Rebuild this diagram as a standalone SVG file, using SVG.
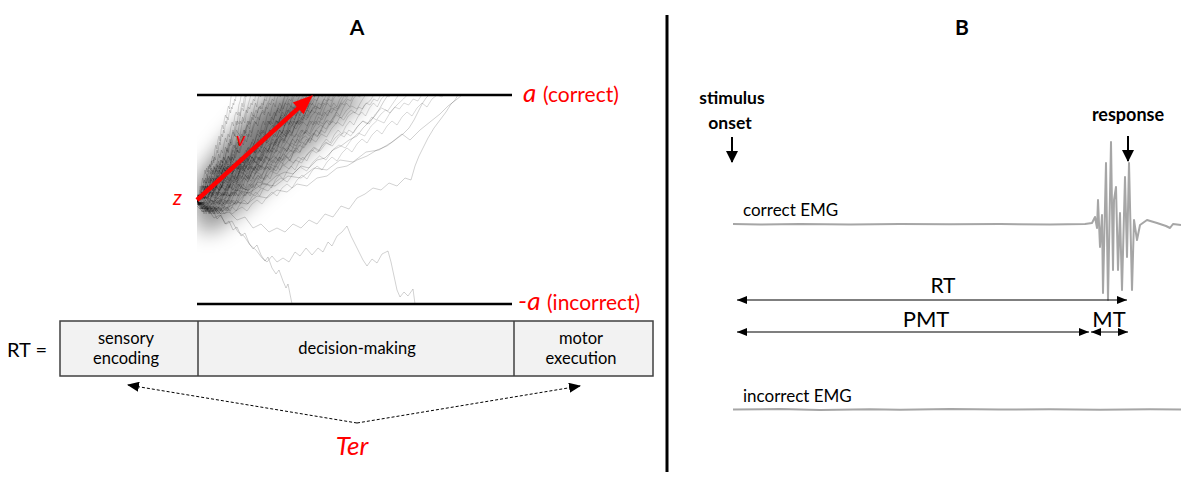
<svg xmlns="http://www.w3.org/2000/svg" width="1181" height="477" viewBox="0 0 1181 477">
<style>
.t{font-family:Lato,"Liberation Sans",sans-serif;fill:#000}
.b{font-weight:bold}
.red{fill:#ff0000;font-family:Lato,"Liberation Sans",sans-serif}
.walk{fill:none;stroke:#000;stroke-opacity:0.15;stroke-width:1;vector-effect:non-scaling-stroke}
.slow{fill:none;stroke:#000;stroke-opacity:0.18;stroke-width:1}
.emg{fill:none;stroke:#a6a6a6;stroke-width:2;stroke-linejoin:round}
.dim{stroke:#000;stroke-width:1.2;fill:none}
.box{fill:#f2f2f2;stroke:#404040;stroke-width:1.5}
.bt{font-family:Lato,"Liberation Sans",sans-serif;fill:#000;font-size:16.5px;text-anchor:middle}
</style>
<defs>
<marker id="ah" markerWidth="12" markerHeight="10" refX="11" refY="5" orient="auto-start-reverse" markerUnits="userSpaceOnUse"><path d="M0,0 L12,5 L0,10 Z" fill="#000"/></marker>
<marker id="ad" markerWidth="10" markerHeight="8" refX="10" refY="4" orient="auto-start-reverse" markerUnits="userSpaceOnUse"><path d="M0,0 L10,4 L0,8 Z" fill="#000"/></marker>
<marker id="dn" markerWidth="12" markerHeight="12" refX="6" refY="11" orient="0" markerUnits="userSpaceOnUse"><path d="M0,0 L12,0 L6,12 Z" fill="#000"/></marker>
<clipPath id="band"><rect x="197" y="95" width="316" height="209"/></clipPath>
<filter id="blur" x="-30%" y="-30%" width="160%" height="160%"><feGaussianBlur stdDeviation="10"/></filter>
<path id="w1" class="walk" d="M0,0 L3,-6 L6,-2 L9,-10 L12,-7 L15,-15 L18,-12 L21,-20 L24,-17 L27,-26 L30,-22 L33,-31 L36,-35 L39,-30 L42,-40 L45,-44 L48,-39 L51,-50 L54,-55 L57,-51 L60,-60 L63,-64 L66,-59 L69,-70 L72,-75 L75,-71 L78,-80 L81,-85 L84,-82 L87,-90 L90,-94 L93,-91 L96,-100 L100,-110"/>
<path id="w2" class="walk" d="M0,0 L3,4 L6,-3 L9,2 L12,-8 L15,-5 L18,-14 L21,-9 L24,-18 L27,-24 L30,-19 L33,-28 L36,-25 L39,-33 L42,-29 L45,-38 L48,-46 L51,-42 L54,-50 L57,-47 L60,-56 L63,-62 L66,-58 L69,-66 L72,-63 L75,-72 L78,-78 L81,-74 L84,-84 L87,-88 L90,-85 L93,-95 L96,-99 L100,-110"/>
<path id="w3" class="walk" d="M0,0 L3,-5 L6,-1 L9,-8 L12,-4 L15,-11 L18,-18 L21,-14 L24,-10 L27,-19 L30,-24 L33,-20 L36,-29 L39,-26 L42,-35 L45,-31 L48,-40 L51,-37 L54,-46 L57,-53 L60,-49 L63,-57 L66,-54 L69,-63 L72,-68 L75,-64 L78,-73 L81,-79 L84,-76 L87,-86 L90,-92 L93,-89 L96,-98 L100,-110"/>
<path id="w4" class="walk" d="M0,0 L3,6 L6,2 L9,9 L12,4 L15,0 L18,5 L21,-3 L24,-8 L27,-4 L30,-12 L33,-9 L36,-17 L39,-22 L42,-18 L45,-27 L48,-33 L51,-29 L54,-38 L57,-44 L60,-40 L63,-50 L66,-55 L69,-52 L72,-61 L75,-67 L78,-64 L81,-74 L84,-80 L87,-77 L90,-88 L93,-95 L96,-101 L100,-110"/>
<path id="w5" class="walk" d="M0,0 L2,-5 L4,-2 L6,-9 L8,-14 L10,-10 L12,-18 L14,-22 L16,-17 L18,-25 L20,-30 L22,-26 L24,-32 L26,-28 L28,-34 L30,-31 L32,-36 L34,-33 L36,-39 L38,-35 L40,-40 L42,-37 L44,-43 L46,-40 L48,-46 L50,-50 L52,-47 L54,-53 L56,-58 L58,-55 L60,-62 L62,-66 L64,-63 L66,-70 L68,-67 L70,-74 L72,-79 L74,-76 L76,-83 L78,-80 L80,-86 L82,-90 L84,-87 L86,-93 L88,-91 L90,-97 L92,-95 L94,-101 L96,-99 L98,-106 L100,-110"/>
<path id="w6" class="walk" d="M0,0 L2,5 L4,2 L6,9 L8,6 L10,12 L12,8 L14,14 L16,10 L18,7 L20,11 L22,4 L24,0 L26,4 L28,-3 L30,-8 L32,-4 L34,-12 L36,-16 L38,-12 L40,-20 L42,-25 L44,-21 L46,-29 L48,-34 L50,-30 L52,-38 L54,-43 L56,-39 L58,-47 L60,-52 L62,-48 L64,-56 L66,-61 L68,-57 L70,-65 L72,-70 L74,-66 L76,-74 L78,-79 L80,-75 L82,-83 L84,-88 L86,-84 L88,-92 L90,-97 L92,-93 L94,-101 L96,-105 L98,-103 L100,-110"/>
</defs>

<g id="panel-a-title"><text class="t b" x="357" y="35" font-size="21" text-anchor="middle">A</text></g>

<g id="walks" clip-path="url(#band)">
<polygon points="197,180 206,164 224,140 246,116 262,99 272,92 372,92 360,104 340,122 315,145 290,168 262,192 238,214 214,232 197,230" fill="#000" fill-opacity="0.38" filter="url(#blur)"/>
<polygon points="197,190 215,168 240,140 265,115 285,98 320,98 295,125 265,155 235,185 210,210 197,212" fill="#000" fill-opacity="0.25" filter="url(#blur)"/>
<use href="#w1" transform="translate(197,200) scale(0.35,1)"/>
<use href="#w2" transform="translate(197,200) scale(0.45,1)"/>
<use href="#w3" transform="translate(197,200) scale(0.5,1)"/>
<use href="#w4" transform="translate(197,200) scale(0.55,1)"/>
<use href="#w5" transform="translate(197,200) scale(0.6,1)"/>
<use href="#w6" transform="translate(197,200) scale(0.65,1)"/>
<use href="#w1" transform="translate(197,200) scale(0.7,1)"/>
<use href="#w2" transform="translate(197,200) scale(0.75,1)"/>
<use href="#w5" transform="translate(197,200) scale(0.8,1)"/>
<use href="#w6" transform="translate(197,200) scale(0.85,1)"/>
<use href="#w3" transform="translate(197,200) scale(0.9,1)"/>
<use href="#w4" transform="translate(197,200) scale(0.94,1)"/>
<use href="#w5" transform="translate(197,200) scale(0.98,1)"/>
<use href="#w6" transform="translate(197,200) scale(1.02,1)"/>
<use href="#w1" transform="translate(197,200) scale(1.05,1)"/>
<use href="#w2" transform="translate(197,200) scale(1.08,1)"/>
<use href="#w5" transform="translate(197,200) scale(1.12,1)"/>
<use href="#w6" transform="translate(197,200) scale(1.15,1)"/>
<use href="#w3" transform="translate(197,200) scale(1.18,1)"/>
<use href="#w4" transform="translate(197,200) scale(1.21,1)"/>
<use href="#w5" transform="translate(197,200) scale(1.25,1)"/>
<use href="#w6" transform="translate(197,200) scale(1.28,1)"/>
<use href="#w1" transform="translate(197,200) scale(1.32,1)"/>
<use href="#w2" transform="translate(197,200) scale(1.36,1)"/>
<use href="#w5" transform="translate(197,200) scale(1.4,1)"/>
<use href="#w6" transform="translate(197,200) scale(1.45,1)"/>
<use href="#w3" transform="translate(197,200) scale(1.5,1)"/>
<use href="#w4" transform="translate(197,200) scale(1.55,1)"/>
<use href="#w5" transform="translate(197,200) scale(1.6,1)"/>
<use href="#w6" transform="translate(197,200) scale(1.66,1)"/>
<use href="#w1" transform="translate(197,200) scale(1.72,1)"/>
<use href="#w2" transform="translate(197,200) scale(1.8,1)"/>
<use href="#w5" transform="translate(197,200) scale(1.88,1)"/>
<use href="#w6" transform="translate(197,200) scale(1.96,1)"/>
<use href="#w3" transform="translate(197,200) scale(2.05,1)"/>
<use href="#w4" transform="translate(197,200) scale(2.15,1)"/>
<use href="#w5" transform="translate(197,200) scale(2.3,1)"/>
<use href="#w6" transform="translate(197,200) scale(2.5,1)"/>
<use href="#w5" transform="translate(197,200) scale(0.4,1)"/>
<use href="#w6" transform="translate(197,200) scale(0.5,1)"/>
<use href="#w5" transform="translate(197,200) scale(0.72,1)"/>
<use href="#w6" transform="translate(197,200) scale(0.92,1)"/>
<use href="#w5" transform="translate(197,200) scale(1.1,1)"/>
<use href="#w6" transform="translate(197,200) scale(1.2,1)"/>
<use href="#w5" transform="translate(197,200) scale(1.35,1)"/>
<use href="#w6" transform="translate(197,200) scale(1.52,1)"/>
<path class="slow" d="M197,203 L201,209 L205,205 L209,213 L213,210 L217,219 L221,215 L225,224 L229,221 L233,230 L237,227 L241,236 L245,233 L249,243 L253,249 L257,245 L261,255 L265,261 L268,257 L272,268 L276,274 L279,270 L283,281 L286,288 L288,284 L290,294 L292,304"/>
<path class="slow" d="M197,206 L203,212 L208,209 L214,218 L220,215 L226,224 L232,221 L238,232 L244,236 L250,245 L256,250 L262,258 L267,262 L272,256 L277,262 L283,258 L289,262 L295,252 L300,256 L306,248 L312,255 L318,248 L323,252 L328,242 L332,246 L337,236 L342,232 L347,226 L351,236 L355,244 L359,252 L363,260 L367,266 L372,259 L377,263 L382,254 L388,251 L391,262 L394,276 L397,290 L400,297 L404,292 L408,296 L413,289 L415,304"/>
<path class="slow" d="M197,204 L205,210 L213,206 L221,214 L229,212 L237,220 L245,217 L253,228 L261,224 L269,232 L277,228 L285,232 L293,224 L301,228 L309,220 L317,224 L325,214 L333,217 L341,206 L349,209 L357,198 L365,194 L373,188 L381,190 L389,183 L397,186 L405,178 L411,180 L415,166 L419,156 L423,148 L428,138 L434,128 L440,120 L446,112 L451,104 L455,100 L458,95"/>
<path class="slow" d="M197,201 L206,198 L214,202 L222,194 L231,196 L240,188 L249,190 L258,182 L267,184 L276,176 L285,172 L293,174 L301,166 L309,168 L317,160 L325,158 L333,150 L341,146 L349,140 L357,136 L363,128 L369,122 L375,116 L380,108 L384,101 L388,95"/>
<path class="slow" d="M197,202 L207,206 L217,202 L227,208 L237,202 L247,204 L257,196 L267,198 L277,190 L287,192 L297,184 L307,186 L317,178 L327,176 L337,168 L347,166 L357,160 L367,156 L377,150 L387,146 L395,140 L403,134 L409,128 L414,120 L418,112 L422,104 L426,98 L429,95"/>
<path class="slow" d="M197,200 L210,196 L223,200 L236,190 L249,193 L262,184 L275,186 L288,176 L301,178 L314,168 L327,170 L340,160 L353,162 L366,152 L379,150 L392,142 L402,134 L410,140 L420,130 L430,122 L440,114 L448,106 L456,100 L462,95"/>
</g>

<g id="bounds">
<line x1="197" y1="95" x2="512" y2="95" stroke="#000" stroke-width="2.5"/>
<line x1="197" y1="304" x2="512" y2="304" stroke="#000" stroke-width="2.5"/>
</g>

<g id="drift-arrow">
<line x1="197" y1="200" x2="300" y2="106.7" stroke="#ff0000" stroke-width="4.5"/>
<polygon points="313,95 303.6,114.3 292.8,102.5" fill="#ff0000"/>
</g>

<g id="params">
<text class="red" x="523" y="102" font-size="26" font-style="italic">a</text>
<text class="red" x="543" y="102" font-size="21">(correct)</text>
<text class="red" x="518" y="310" font-size="26" font-style="italic">-a</text>
<text class="red" x="547" y="310" font-size="21">(incorrect)</text>
<text class="red" x="173" y="205" font-size="21" font-style="italic">z</text>
<text class="red" x="236" y="146" font-size="19" font-style="italic">v</text>
</g>

<g id="rt-label"><text class="t" x="7" y="357" font-size="20">RT =</text></g>

<g id="stage-box">
<rect class="box" x="60" y="321" width="593" height="55"/>
<line x1="198" y1="321" x2="198" y2="376" stroke="#404040" stroke-width="1.5"/>
<line x1="514" y1="321" x2="514" y2="376" stroke="#404040" stroke-width="1.5"/>
</g>
<g id="sensory"><text class="bt"><tspan x="126" y="344">sensory</tspan><tspan x="126" y="364">encoding</tspan></text></g>
<g id="decision"><text class="bt" x="357" y="354">decision-making</text></g>
<g id="motor"><text class="bt"><tspan x="581" y="344">motor</tspan><tspan x="581" y="364">execution</tspan></text></g>

<g id="connectors">
<line x1="357" y1="423" x2="128" y2="385" stroke="#000" stroke-width="1" stroke-dasharray="3,2" marker-end="url(#ah)"/>
<line x1="357" y1="423" x2="580" y2="386" stroke="#000" stroke-width="1" stroke-dasharray="3,2" marker-end="url(#ah)"/>
</g>
<g id="ter"><text class="red" x="352" y="455" font-size="26" font-style="italic" text-anchor="middle">Ter</text></g>

<g id="divider"><line x1="667" y1="15" x2="667" y2="472" stroke="#000" stroke-width="3"/></g>

<g id="panel-b-title"><text class="t b" x="962" y="35" font-size="21" text-anchor="middle">B</text></g>

<g id="stimulus-onset">
<text class="t b" font-size="17.5" text-anchor="middle"><tspan x="732" y="104">stimulus</tspan><tspan x="730" y="129">onset</tspan></text>
<line x1="732" y1="137" x2="732" y2="162" stroke="#000" stroke-width="2" marker-end="url(#dn)"/>
</g>
<g id="response">
<text class="t b" font-size="18" text-anchor="middle" x="1128" y="121">response</text>
<line x1="1128" y1="136" x2="1128" y2="161" stroke="#000" stroke-width="2" marker-end="url(#dn)"/>
</g>

<g id="correct-emg">
<text class="t" x="743" y="216" font-size="17">correct EMG</text>
<path class="emg" d="M733,224 L760,224.5 L800,224 L850,224.5 L900,224 L950,224.3 L1000,224 L1050,224.4 L1085,224 L1092,223 L1095,217 L1097,228 L1098,200 L1100,247 L1102,215 L1103,293 L1106,163 L1108,300 L1111,142 L1113,270 L1114,200 L1116,187 L1118,270 L1120,213 L1122,290 L1125,177 L1127,257 L1129,163 L1132,290 L1134,220 L1137,240 L1140,225 L1147,220 L1157,223 L1166,226 L1170,228 L1173,224 L1181,225"/>
</g>

<g id="dimensions">
<line class="dim" x1="737" y1="300" x2="1127" y2="300" marker-start="url(#ad)" marker-end="url(#ad)"/>
<text class="t" x="943" y="293" font-size="21" text-anchor="middle">RT</text>
<line class="dim" x1="737" y1="332" x2="1089" y2="332" marker-start="url(#ad)" marker-end="url(#ad)"/>
<text class="t" x="926" y="327" font-size="22" text-anchor="middle">PMT</text>
<line class="dim" x1="1091" y1="332" x2="1128" y2="332" marker-start="url(#ad)" marker-end="url(#ad)"/>
<text class="t" x="1109" y="327" font-size="22" text-anchor="middle">MT</text>
</g>

<g id="incorrect-emg">
<text class="t" x="743" y="402" font-size="17">incorrect EMG</text>
<path class="emg" d="M733,409.5 L780,409 L820,410 L870,409.3 L900,409.8 L950,409 L1000,409.6 L1050,409.2 L1100,409.7 L1150,409.2 L1181,409.5"/>
</g>
</svg>
